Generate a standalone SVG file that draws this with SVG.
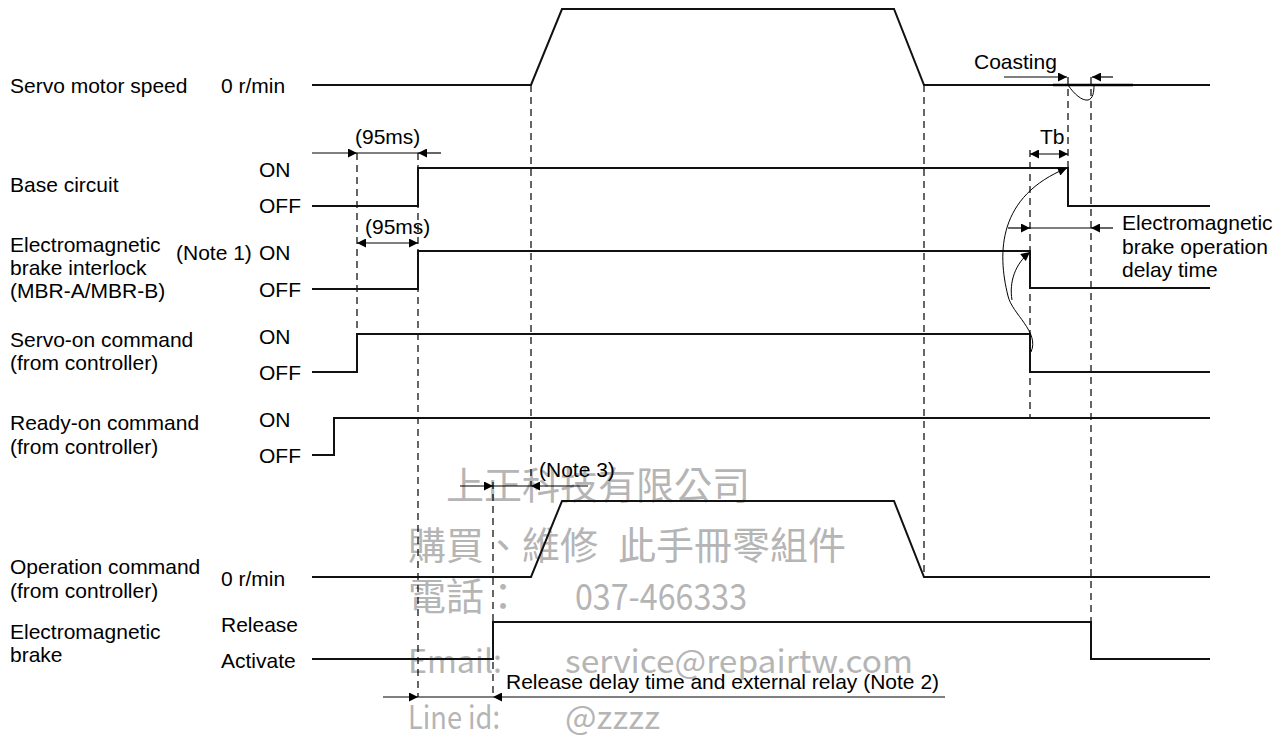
<svg xmlns="http://www.w3.org/2000/svg" width="1285" height="738" viewBox="0 0 1285 738">
<style>
.t{font-family:"Liberation Sans",Arial,sans-serif;font-size:21px;fill:#000}
.sig{fill:none;stroke:#111;stroke-width:2}
.dash{fill:none;stroke:#000;stroke-width:1.2;stroke-dasharray:7 5}
.dim{fill:none;stroke:#000;stroke-width:1.2}
.cur{fill:none;stroke:#000;stroke-width:1}
.wm{font-family:"Noto Sans CJK TC","Noto Sans",sans-serif;fill:#b5b5b5}
</style>
<defs>
<marker id="ah" viewBox="0 0 10 10" refX="10" refY="5" markerWidth="11" markerHeight="9" markerUnits="userSpaceOnUse" orient="auto-start-reverse">
<path d="M0,0 L10,5 L0,10 z" fill="#000"/>
</marker>
</defs>
<rect width="1285" height="738" fill="#fff"/>

<g id="watermark">
<text class="wm" x="446" y="499" font-size="38">上正科技有限公司</text>
<text class="wm" x="408" y="559" font-size="38">購買、維修</text>
<text class="wm" x="618" y="559" font-size="38">此手冊零組件</text>
<text class="wm" x="408" y="610" font-size="38">電話：</text>
<text class="wm" x="575" y="610" font-size="36" textLength="172" lengthAdjust="spacingAndGlyphs">037-466333</text>
<text class="wm" x="408" y="673" font-size="32" textLength="94" lengthAdjust="spacingAndGlyphs">Email:</text>
<text class="wm" x="565" y="673" font-size="32" textLength="348" lengthAdjust="spacingAndGlyphs">service@repairtw.com</text>
<text class="wm" x="408" y="729" font-size="32" textLength="92" lengthAdjust="spacingAndGlyphs">Line id:</text>
<text class="wm" x="565" y="729" font-size="32" textLength="95" lengthAdjust="spacingAndGlyphs">@zzzz</text>
</g>

<g id="guides">
<path class="dash" d="M357,153 V334"/>
<path class="dash" d="M418,153 V697"/>
<path class="dash" d="M493,482 V697"/>
<path class="dash" d="M531,85 V486"/>
<path class="dash" d="M924,85 V577"/>
<path class="dash" d="M1030,150 V417"/>
<path class="dash" d="M1068,77 V168"/>
<path class="dash" d="M1091,77 V622"/>
</g>

<g id="servo-motor-speed">
<text class="t" x="10" y="93">Servo motor speed</text>
<text class="t" x="221" y="93">0 r/min</text>
<path class="sig" d="M312,85 H531 L562,9 H894 L924,85 H1210"/>
<path d="M1053,85 H1133" stroke="#000" stroke-width="2.5"/>
<path class="cur" d="M1068,85 C1074,94 1082,101 1088,100 C1093,99 1094,92 1094,85" stroke-width="1.3"/>
</g>

<g id="base-circuit">
<text class="t" x="10" y="192">Base circuit</text>
<text class="t" x="259" y="177">ON</text>
<text class="t" x="259" y="213">OFF</text>
<path class="sig" d="M312,206 H418 V168 H1068 V206 H1210"/>
</g>

<g id="brake-interlock">
<text class="t" x="10" y="252">Electromagnetic</text>
<text class="t" x="10" y="275">brake interlock</text>
<text class="t" x="10" y="298">(MBR-A/MBR-B)</text>
<text class="t" x="176" y="260">(Note 1)</text>
<text class="t" x="259" y="260">ON</text>
<text class="t" x="259" y="297">OFF</text>
<path class="sig" d="M312,289 H418 V251 H1030 V288 H1210"/>
</g>

<g id="servo-on-command">
<text class="t" x="10" y="347">Servo-on command</text>
<text class="t" x="10" y="370">(from controller)</text>
<text class="t" x="259" y="344">ON</text>
<text class="t" x="259" y="380">OFF</text>
<path class="sig" d="M312,372 H357 V334 H1030 V372 H1210"/>
</g>

<g id="ready-on-command">
<text class="t" x="10" y="430">Ready-on command</text>
<text class="t" x="10" y="454">(from controller)</text>
<text class="t" x="259" y="427">ON</text>
<text class="t" x="259" y="463">OFF</text>
<path class="sig" d="M312,455 H334 V418 H1210"/>
</g>

<g id="operation-command">
<text class="t" x="10" y="574">Operation command</text>
<text class="t" x="10" y="598">(from controller)</text>
<text class="t" x="221" y="586">0 r/min</text>
<path class="sig" d="M312,577 H531 L562,501 H894 L924,577 H1210"/>
</g>

<g id="electromagnetic-brake">
<text class="t" x="10" y="639">Electromagnetic</text>
<text class="t" x="10" y="662">brake</text>
<text class="t" x="221" y="632">Release</text>
<text class="t" x="221" y="668">Activate</text>
<path class="sig" d="M312,659 H493 V622 H1091 V659 H1210"/>
</g>

<g id="annotations">
<text class="t" x="974" y="69">Coasting</text>
<text class="t" x="1040" y="144">Tb</text>
<text class="t" x="355" y="144">(95ms)</text>
<text class="t" x="365" y="234">(95ms)</text>
<text class="t" x="1122" y="230">Electromagnetic</text>
<text class="t" x="1122" y="254">brake operation</text>
<text class="t" x="1122" y="277">delay time</text>
<text class="t" x="539" y="477">(Note 3)</text>
<text class="t" x="506" y="689">Release delay time and external relay (Note 2)</text>
</g>

<g id="connectors">
<path class="dim" d="M1004,77 H1067" marker-end="url(#ah)"/>
<path class="dim" d="M1113,77 H1092" marker-end="url(#ah)"/>
<path class="dim" d="M312,153 H357" marker-end="url(#ah)"/>
<path class="dim" d="M357,153 H418"/>
<path class="dim" d="M441,153 H418" marker-end="url(#ah)"/>
<path class="dim" d="M357,243 H418" marker-start="url(#ah)" marker-end="url(#ah)"/>
<path class="dim" d="M1030,154 H1068" marker-start="url(#ah)" marker-end="url(#ah)"/>
<path class="dim" d="M1008,228 H1030" marker-end="url(#ah)"/>
<path class="dim" d="M1030,228 H1091"/>
<path class="dim" d="M1113,228 H1091" marker-end="url(#ah)"/>
<path class="dim" d="M460,486 H493" marker-end="url(#ah)"/>
<path class="dim" d="M493,486 H531"/>
<path class="dim" d="M588,486 H531" marker-end="url(#ah)"/>
<path class="dim" d="M383,697 H418" marker-end="url(#ah)"/>
<path class="dim" d="M418,697 H493"/>
<path class="dim" d="M945,697 H493" marker-end="url(#ah)"/>
<path class="cur" d="M1031,352 C1040,332 1012,314 1008,296 C997,252 998,196 1067,168" marker-end="url(#ah)"/>
<path class="cur" d="M1012,300 C1009,282 1015,264 1030,252" marker-end="url(#ah)"/>
</g>
</svg>
